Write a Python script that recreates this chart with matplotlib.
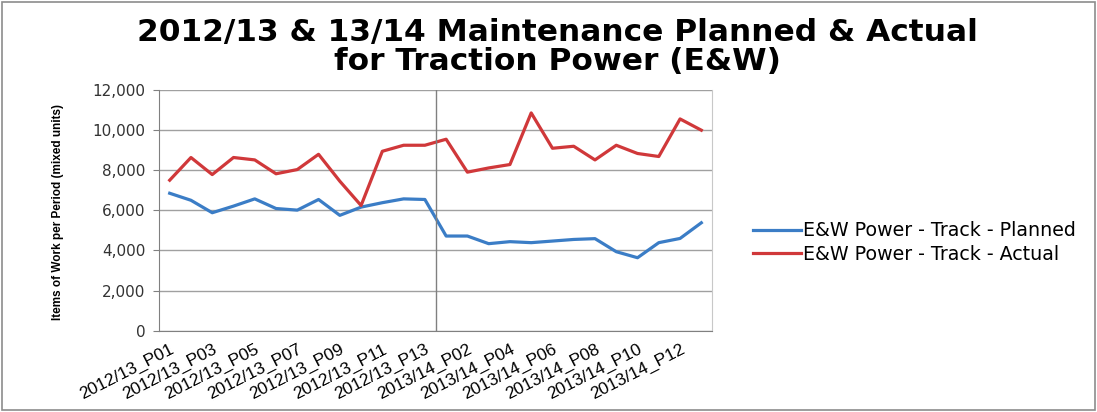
import numpy as np
import matplotlib
matplotlib.use("Agg")
import matplotlib.pyplot as plt
from matplotlib.patches import Rectangle
from matplotlib.ticker import FuncFormatter

# periods: 13 per year
periods = ["2012/13_P%02d" % i for i in range(1, 14)] + ["2013/14_P%02d" % i for i in range(1, 14)]

planned = [6850, 6500, 5880, 6210, 6570, 6090, 6010, 6540, 5750, 6160, 6380, 6570, 6540,
           4720, 4720, 4340, 4440, 4390, 4470, 4550, 4590, 3940, 3640, 4390, 4600, 5380]
actual = [7500, 8630, 7780, 8630, 8510, 7820, 8030, 8790, 7450, 6240, 8940, 9240, 9240,
          9540, 7900, 8110, 8280, 10850, 9090, 9190, 8510, 9240, 8830, 8680, 10550, 9990]

title = "2012/13 & 13/14 Maintenance Planned & Actual\nfor Traction Power (E&W)"
ylabel = "Items of Work per Period (mixed units)"
label_planned = "E&W Power - Track - Planned"
label_actual = "E&W Power - Track - Actual"

fig = plt.figure(figsize=(10.97, 4.12), dpi=100)
ax = fig.add_axes([0.145, 0.197, 0.504, 0.585])

x = np.arange(len(periods))
ax.plot(x, planned, color="#3b7dc6", lw=2.3, label=label_planned)
ax.plot(x, actual, color="#d0383a", lw=2.3, label=label_actual)

ax.set_xlim(-0.5, len(periods) - 0.5)
ax.set_ylim(0, 12000)
ax.set_yticks(np.arange(0, 12001, 2000))
ax.yaxis.set_major_formatter(FuncFormatter(lambda v, p: "{:,.0f}".format(v)))
ax.grid(axis="y", color="#a0a0a0", lw=1)
ax.set_axisbelow(True)
ax.axvline(12.5, color="#808080", lw=1)

ax.set_xticks(x[::2])
ax.set_xticklabels(periods[::2], rotation=27, ha="right", rotation_mode="anchor",
                   fontsize=12.5, family=["Liberation Sans", "DejaVu Sans"])
ax.tick_params(axis="x", length=0, pad=8)
ax.tick_params(axis="y", length=4, color="#808080", labelsize=11, pad=6)
for lab in ax.get_yticklabels():
    lab.set_family("DejaVu Sans")
    lab.set_color("#333333")

ax.spines["top"].set_visible(False)
ax.spines["left"].set_color("#808080")
ax.spines["bottom"].set_color("#808080")
ax.spines["right"].set_color("#c8c8c8")

ax.set_ylabel(ylabel, fontsize=8.5, fontweight="bold",
              family=["Liberation Sans Narrow", "Liberation Sans", "DejaVu Sans"])
ax.yaxis.set_label_coords(-0.172, 0.494)

fig.text(0.508, 0.885, title, ha="center", va="center", fontsize=22.5, fontweight="bold",
         linespacing=1.0)

fig.legend(loc="center left", bbox_to_anchor=(0.671, 0.411), frameon=False,
           fontsize=13.7, handlelength=2.5, handletextpad=0.1, labelspacing=0.25)

fig.patches.append(Rectangle((0.002, 0.004), 0.996, 0.992, transform=fig.transFigure,
                             fill=False, edgecolor="#8c8c8c", lw=1.2))

fig.savefig("out.png", dpi=100)
